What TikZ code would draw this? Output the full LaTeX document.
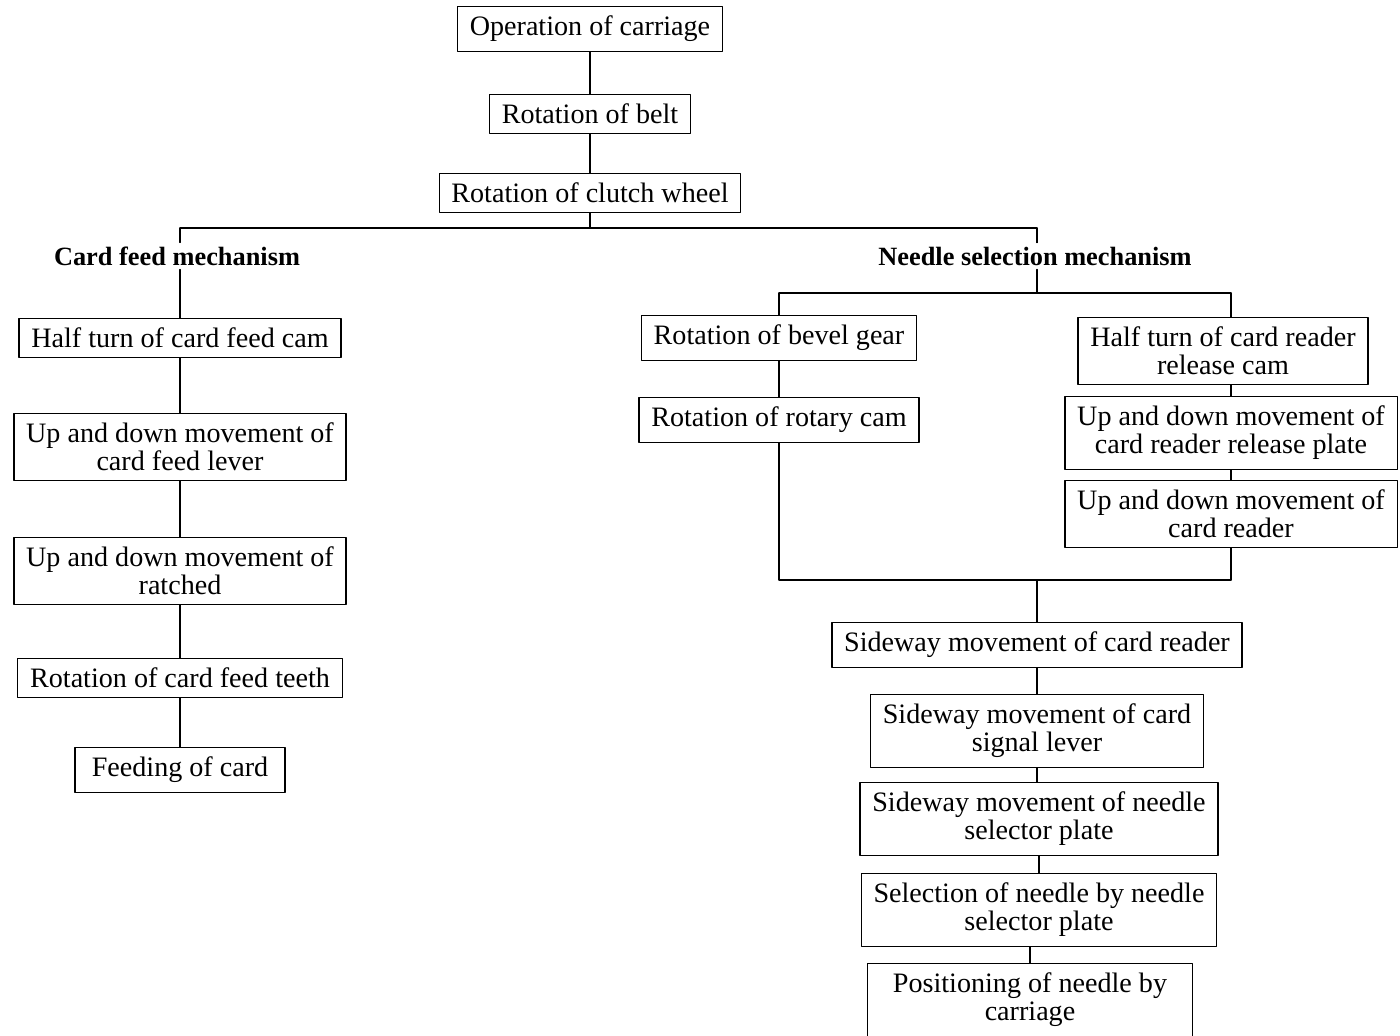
\documentclass[tikz,border=0pt]{standalone}
\usepackage{fontspec}
\setmainfont{Liberation Serif}
\begin{document}
\begin{tikzpicture}[x=0.02cm,y=-0.02cm,line join=round,line cap=round,line width=0.7pt,
  font=\fontsize{16}{16}\selectfont,
  box/.style={draw,align=center,inner xsep=7pt,inner ysep=5.5pt},
  head/.style={font=\fontsize{15}{17}\selectfont\bfseries,inner sep=2pt}]
  \useasboundingbox (0,0) rectangle (1400,1035);
  \node[box] (carriage) at (590,29) {Operation of carriage};
  \node[box] (belt) at (590,114) {Rotation of belt};
  \node[box] (clutch) at (590,193) {Rotation of clutch wheel};
  \coordinate (jl) at (180,228);
  \coordinate (jr) at (1037,228);
  \node[head] (cfm) at (177,256) {Card feed mechanism};
  \node[head] (nsm) at (1035,256) {Needle selection mechanism};
  \node[box] (halfturn) at (180,338) {Half turn of card feed cam};
  \node[box] (lever) at (180,447) {Up and down movement of\\card feed lever};
  \node[box] (ratched) at (180,571) {Up and down movement of\\ratched};
  \node[box] (teeth) at (180,678) {Rotation of card feed teeth};
  \node[box,minimum width=4.2cm] (feeding) at (180,770) {Feeding of card};
  \coordinate (nj) at (1037,293);
  \coordinate (bj) at (779,293);
  \coordinate (rj) at (1231,293);
  \node[box] (bevel) at (779,338) {Rotation of bevel gear};
  \node[box] (rotary) at (779,420) {Rotation of rotary cam};
  \node[box] (release) at (1223,351) {Half turn of card reader\\release cam};
  \node[box] (plate) at (1231,433) {Up and down movement of\\card reader release plate};
  \node[box] (reader) at (1231,514) {Up and down movement of\\card reader};
  \coordinate (bb) at (779,580);
  \coordinate (rb) at (1231,580);
  \coordinate (mj) at (1037,580);
  \node[box] (sideway) at (1037,645) {Sideway movement of card reader};
  \node[box] (signal) at (1037,731) {Sideway movement of card\\signal lever};
  \node[box] (selector) at (1039,819) {Sideway movement of needle\\selector plate};
  \node[box] (selection) at (1039,910) {Selection of needle by needle\\selector plate};
  \node[box,minimum width=6.5cm] (positioning) at (1030,1000) {Positioning of needle by\\carriage};
  \draw (carriage) -- (belt) -- (clutch);
  \draw (clutch) -- (clutch |- jl);
  \draw (jl) -- (jr);
  \draw (jl) -- (jl |- cfm.north);
  \draw (halfturn) -- (halfturn |- cfm.south);
  \draw (halfturn) -- (lever) -- (ratched) -- (teeth) -- (feeding);
  \draw (jr) -- (jr |- nsm.north);
  \draw (nj) -- (nj |- nsm.south);
  \draw (bj) -- (rj);
  \draw (bj) -- (bevel) -- (rotary) -- (bb) -- (rb);
  \draw (rj) -- (rj |- release.north);
  \draw (plate) -- (plate |- release.south);
  \draw (plate) -- (reader) -- (rb);
  \draw (mj) -- (sideway) -- (signal) -- (signal |- selector.north);
  \draw (selector) -- (selection);
  \draw (positioning) -- (positioning |- selection.south);
\end{tikzpicture}
\end{document}
